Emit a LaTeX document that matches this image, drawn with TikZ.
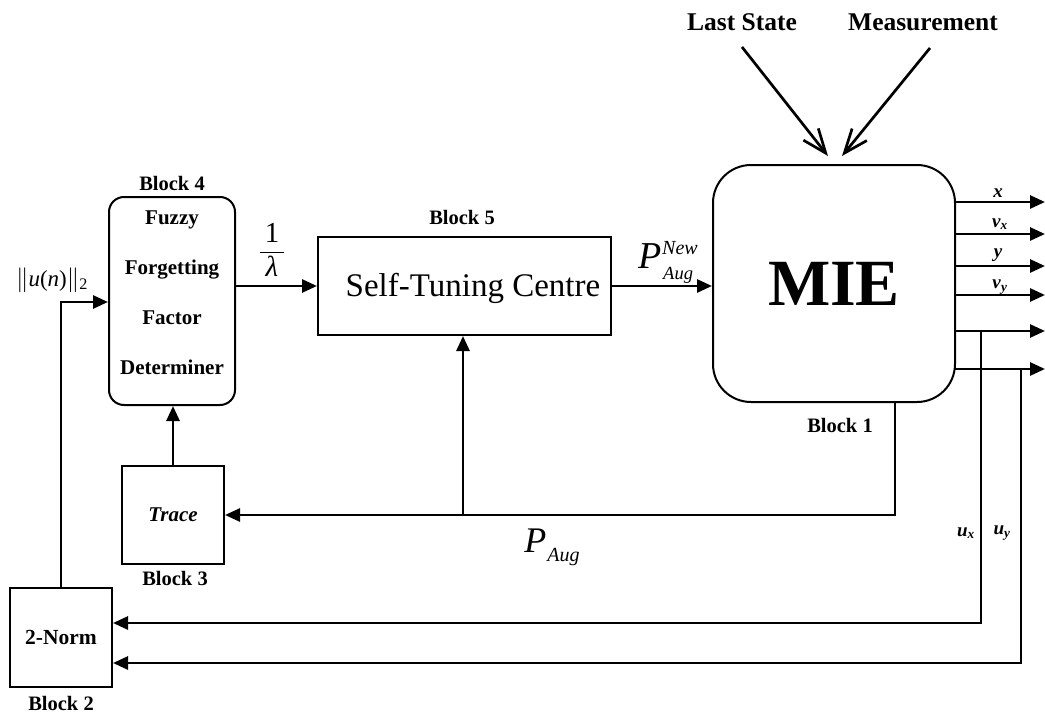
\documentclass[tikz,border=0pt]{standalone}
\usepackage{amsmath}
\usepackage{fontspec}
\setmainfont{Liberation Serif}
\usetikzlibrary{arrows.meta}
\begin{document}
\begin{tikzpicture}[x=1pt,y=-1pt,
  box/.style={draw,line width=2pt,inner sep=0pt},
  arr/.style={line width=2.7pt,-{Triangle[length=15pt,width=13pt]}},
  thin/.style={line width=2pt},
  barb/.style={line width=2.7pt,-{Straight Barb[length=24pt,width=19pt,line width=2.7pt]}},
  blk/.style={font=\fontsize{20.5}{22}\selectfont\bfseries},
  top/.style={font=\fontsize{25.5}{27}\selectfont\bfseries},
  olab/.style={font=\fontsize{19}{19}\selectfont}]
\useasboundingbox (0,0) rectangle (1045,717);
% blocks
\node[box,rounded corners=15pt,minimum width=126pt,minimum height=208pt] (b4) at (172,301) {};
\node[align=center,font=\fontsize{21}{50}\selectfont\bfseries] (b4t) at (172,293) {Fuzzy\\Forgetting\\Factor\\Determiner};
\node[box,minimum width=293pt,minimum height=98pt] (b5) at (464.5,286) {};
\node[font=\fontsize{33}{33}\selectfont] (b5t) at (473,288) {Self-Tuning Centre};
\node[box,rounded corners=38pt,minimum width=242pt,minimum height=237pt,font=\fontsize{66}{66}\selectfont\bfseries] (mie) at (834,283.5) {MIE};
\node[box,minimum width=102pt,minimum height=98pt,font=\fontsize{21}{21}\selectfont\bfseries\itshape] (b3) at (173,515) {Trace};
\node[box,minimum width=102pt,minimum height=99pt,font=\fontsize{21.5}{21.5}\selectfont\bfseries] (b2) at (61,637.5) {2-Norm};
% block labels
\node[blk] (l4) at (172,183) {Block 4};
\node[blk] (l5) at (462,217) {Block 5};
\node[blk] (l1) at (840,425) {Block 1};
\node[blk] (l3) at (175,578) {Block 3};
\node[blk] (l2) at (61,703) {Block 2};
% top inputs
\node[top] (ls) at (742,22) {Last State};
\node[top] (ms) at (923,22) {Measurement};
\coordinate (ls1) at (742,47);
\coordinate (ms1) at (930,48);
\coordinate (ls2) at (828,156);
\coordinate (ms2) at (842,156);
\draw[barb] (ls1) -- (ls2);
\draw[barb] (ms1) -- (ms2);
% main flow
\draw[arr] (b5.west -| b4.east) -- (b5.west);
\node[font=\fontsize{29}{29}\selectfont] (lam) at (272,250) {$\displaystyle\frac{\textrm{1}}{\hspace{6pt}\textit{λ}\hspace{6pt}}$};
\draw[arr] (b5.east) -- (b5.east -| mie.west);
\node[font=\fontsize{38}{38}\selectfont\itshape,inner sep=0pt] (pnew) at (666,262) {P\rlap{\raisebox{14pt}{\fontsize{20}{20}\selectfont New}}\raisebox{-11pt}{\fontsize{18.5}{18.5}\selectfont\kern1pt Aug}};
% outputs
\foreach \i/\y in {1/202,2/234,3/266,4/295,5/331,6/369}{
  \coordinate (os\i) at (955,\y);
  \coordinate (oe\i) at (1045,\y);
  \draw[arr] (os\i) -- (oe\i);
}
\node[olab] (lx) at (998,193) {$\textbf{\textit{x}}$};
\node[olab] (lvx) at (1000,224) {$\textbf{\textit{v}}_{\textbf{\textit{x}}}$};
\node[olab] (ly) at (998,255) {$\textbf{\textit{y}}$};
\node[olab] (lvy) at (1000,287) {$\textbf{\textit{v}}_{\textbf{\textit{y}}}$};
% u feedback
\coordinate (ux1) at (981,331);
\coordinate (ux2) at (981,623);
\coordinate (uy1) at (1021,369);
\coordinate (uy2) at (1021,663);
\draw[arr] (ux1) -- (ux2) -- (ux2 -| b2.east);
\draw[arr] (uy1) -- (uy2) -- (uy2 -| b2.east);
\node[olab] (lux) at (966,533) {$\textbf{\textit{u}}_{\textbf{\textit{x}}}$};
\node[olab] (luy) at (1002,533) {$\textbf{\textit{u}}_{\textbf{\textit{y}}}$};
% P_Aug feedback
\coordinate (pa1) at (895,402);
\coordinate (pa2) at (895,515);
\coordinate (pj) at (463,515);
\draw[thin] (pa1) -- (pa2) -- (pj);
\draw[arr] (pj) -- (b3.east);
\draw[arr] (pj) -- (pj |- b5.south);
\node[font=\fontsize{36}{36}\selectfont\itshape,inner sep=0pt] (paug) at (552,547) {P\raisebox{-9pt}{\fontsize{20}{20}\selectfont\kern1pt Aug}};
% trace to block 4
\draw[arr] (b3.north) -- (b3.north |- b4.south);
% 2-norm to block 4
\coordinate (nc) at (61,302);
\draw[arr] (b2.north) -- (nc) -- (nc -| b4.west);
\node[font=\fontsize{23}{23}\selectfont] (lnorm) at (52,280) {$\|\textit{u}\textrm{(}\textit{n}\textrm{)}\|_{\textrm{2}}$};
\end{tikzpicture}
\end{document}
